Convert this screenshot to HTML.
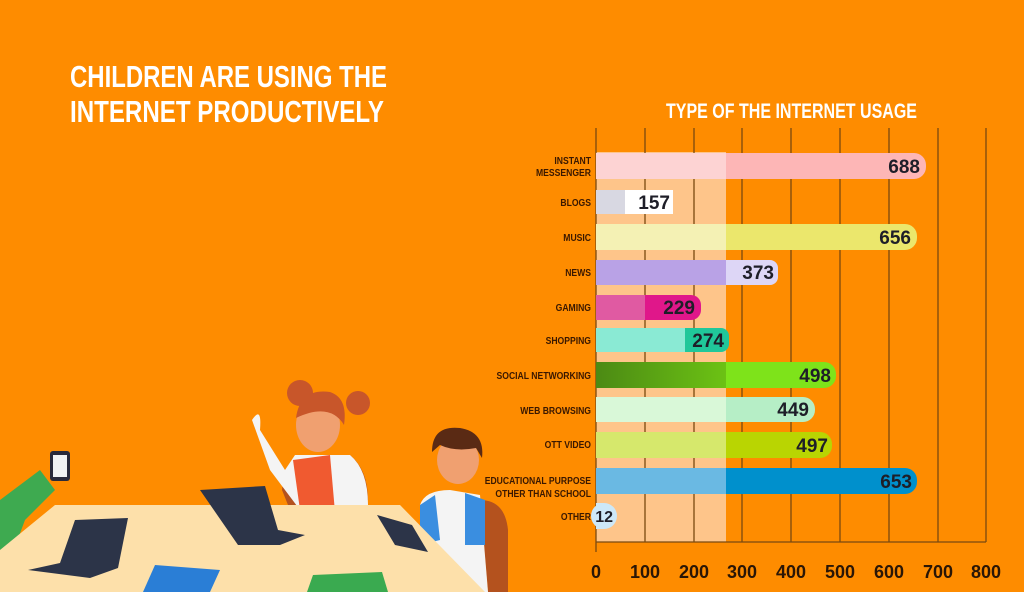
<!DOCTYPE html>
<html><head><meta charset="utf-8"><style>
html,body{margin:0;padding:0;background:#fe8c00;}
svg{display:block}
</style></head><body>
<svg width="1024" height="592" viewBox="0 0 1024 592" xmlns="http://www.w3.org/2000/svg">
<defs>
<linearGradient id="soc" x1="0" x2="1" y1="0" y2="0"><stop offset="0" stop-color="#4c8a14"/><stop offset="1" stop-color="#6cc214"/></linearGradient>
</defs>
<rect width="1024" height="592" fill="#fe8c00"/>
<g font-family="Liberation Sans, sans-serif" font-weight="bold" fill="#fff">
<text x="70" y="87" font-size="31" textLength="317" lengthAdjust="spacingAndGlyphs">CHILDREN ARE USING THE</text>
<text x="70" y="122" font-size="31" textLength="314" lengthAdjust="spacingAndGlyphs">INTERNET PRODUCTIVELY</text>
<text x="666" y="118" font-size="21" textLength="251" lengthAdjust="spacingAndGlyphs">TYPE OF THE INTERNET USAGE</text>
</g>
<rect x="596" y="152" width="130" height="390" fill="#fec58a"/>
<g stroke="#7a4a10" stroke-width="1.3">
<line x1="596" y1="128" x2="596" y2="552"/>
<line x1="645" y1="128" x2="645" y2="542"/>
<line x1="694" y1="128" x2="694" y2="542"/>
<line x1="742" y1="128" x2="742" y2="542"/>
<line x1="791" y1="128" x2="791" y2="542"/>
<line x1="840" y1="128" x2="840" y2="542"/>
<line x1="889" y1="128" x2="889" y2="542"/>
<line x1="938" y1="128" x2="938" y2="542"/>
<line x1="986" y1="128" x2="986" y2="542"/>
<line x1="596" y1="542" x2="986" y2="542"/>
</g>
<g>
<rect x="700" y="153" width="226" height="26" rx="12" fill="#fdb6b6"/><rect x="596" y="153" width="130" height="26" fill="#fdd3d3"/>
<rect x="596" y="190" width="29" height="24" fill="#d8d8e2"/><rect x="625" y="190" width="48" height="24" fill="#fff"/>
<rect x="700" y="224" width="217" height="26" rx="12" fill="#ebe76c"/><rect x="596" y="224" width="130" height="26" fill="#f4f1b4"/>
<rect x="700" y="260" width="78" height="25" rx="8" fill="#ddd6f6"/><rect x="596" y="260" width="130" height="25" fill="#b9a2e6"/>
<rect x="630" y="295" width="71" height="25" rx="10" fill="#e0178a"/><rect x="596" y="295" width="49" height="25" fill="#e05aa2"/>
<rect x="670" y="328" width="59" height="24" rx="8" fill="#20c79a"/><rect x="596" y="328" width="89" height="24" fill="#8aead4"/>
<rect x="700" y="362" width="136" height="26" rx="12" fill="#7ee31a"/><rect x="596" y="362" width="130" height="26" fill="url(#soc)"/>
<rect x="700" y="397" width="115" height="25" rx="12" fill="#b6eec6"/><rect x="596" y="397" width="130" height="25" fill="#d9f8d8"/>
<rect x="700" y="432" width="132" height="26" rx="12" fill="#b9d502"/><rect x="596" y="432" width="130" height="26" fill="#d6e86c"/>
<rect x="700" y="468" width="217" height="26" rx="12" fill="#0090cc"/><rect x="596" y="468" width="130" height="26" fill="#6ab9e3"/>
<circle cx="604" cy="516" r="13" fill="#cde8f8"/><rect x="596" y="503" width="8" height="26" fill="#cde8f8"/>
</g>
<g font-family="Liberation Sans, sans-serif" font-weight="bold" font-size="19" fill="#1e1e28" text-anchor="end">
<text x="920" y="173">688</text>
<text x="670" y="209">157</text>
<text x="911" y="244">656</text>
<text x="774" y="279">373</text>
<text x="695" y="314">229</text>
<text x="724" y="347">274</text>
<text x="831" y="382">498</text>
<text x="809" y="416">449</text>
<text x="828" y="452">497</text>
<text x="912" y="488">653</text>
<text x="613" y="522" font-size="16">12</text>
</g>
<g transform="translate(591,0) scale(0.82,1)" font-family="Liberation Sans, sans-serif" font-weight="bold" font-size="10.5" fill="#3a1800" text-anchor="end">
<text x="0" y="164">INSTANT</text>
<text x="0" y="176">MESSENGER</text>
<text x="0" y="206">BLOGS</text>
<text x="0" y="241">MUSIC</text>
<text x="0" y="276">NEWS</text>
<text x="0" y="311">GAMING</text>
<text x="0" y="344">SHOPPING</text>
<text x="0" y="379">SOCIAL NETWORKING</text>
<text x="0" y="414">WEB BROWSING</text>
<text x="0" y="448">OTT VIDEO</text>
<text x="0" y="484">EDUCATIONAL PURPOSE</text>
<text x="0" y="497">OTHER THAN SCHOOL</text>
<text x="0" y="520">OTHER</text>
</g>
<g font-family="Liberation Sans, sans-serif" font-weight="bold" font-size="18" fill="#2a1606" text-anchor="middle">
<text x="596" y="578">0</text><text x="645" y="578">100</text><text x="694" y="578">200</text><text x="742" y="578">300</text><text x="791" y="578">400</text><text x="840" y="578">500</text><text x="889" y="578">600</text><text x="938" y="578">700</text><text x="986" y="578">800</text>
</g>
<path d="M282 490 Q285 460 300 455 L350 455 Q368 470 368 500 L290 510 Z" fill="#b4521e"/>
<path d="M480 500 Q505 500 508 530 L508 592 L488 592 Z" fill="#b4521e"/>
<path d="M252 420 Q262 405 260 430 L285 470 L295 455 L350 455 Q368 470 368 505 L330 515 L300 510 L270 470 Z" fill="#f4f4f4"/>
<path d="M293 460 L300 510 L335 512 L330 455 Z" fill="#f05a30"/>
<circle cx="300" cy="393" r="13" fill="#c8562a"/><circle cx="358" cy="403" r="12" fill="#c8562a"/>
<ellipse cx="318" cy="425" rx="22" ry="27" fill="#f0a070"/>
<path d="M296 418 Q300 388 330 392 Q348 398 344 425 Q330 402 296 418Z" fill="#c8562a"/>
<path d="M420 505 Q425 490 450 490 L480 495 L488 592 L440 592 L425 545 Z" fill="#f4f4f4"/>
<path d="M420 505 L435 495 L440 540 L420 545 Z" fill="#3a8ee0"/><path d="M465 493 L485 500 L485 545 L465 545 Z" fill="#3a8ee0"/>
<ellipse cx="458" cy="460" rx="21" ry="24" fill="#f0a070"/>
<path d="M432 452 Q432 425 460 428 Q485 432 482 458 L476 448 Q455 452 440 445 Z" fill="#5a2a14"/>
<path d="M0 500 L40 470 L55 490 L25 520 L10 560 L0 560 Z" fill="#3eaa50"/>
<rect x="50" y="451" width="20" height="30" rx="3" fill="#2a2a3a"/><rect x="53" y="455" width="14" height="22" fill="#f2f2f2"/>
<path d="M55 505 L400 505 L485 592 L0 592 L0 550 Z" fill="#fde0aa"/>
<path d="M200 490 L265 486 L278 530 L305 535 L280 545 L238 545 Z" fill="#2c3448"/>
<path d="M75 520 L128 518 L118 568 L90 578 L28 570 L60 563 Z" fill="#2c3448"/>
<path d="M377 515 L412 525 L428 552 L395 545 Z" fill="#2c3448"/>
<path d="M155 565 L220 570 L210 592 L143 592 Z" fill="#2a7ed6"/>
<path d="M313 575 L382 572 L388 592 L307 592 Z" fill="#3aaa50"/>
</svg>
</body></html>
